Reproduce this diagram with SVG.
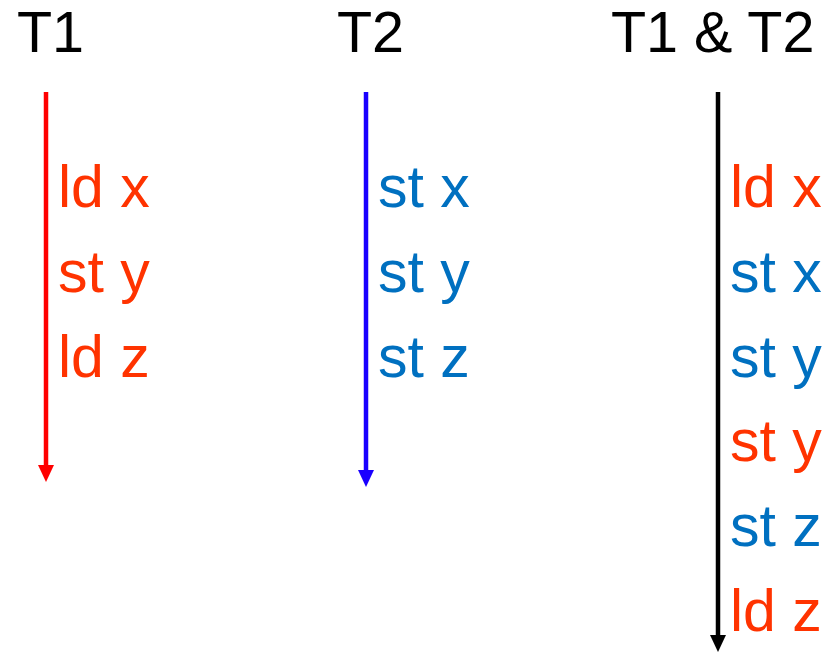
<svg xmlns="http://www.w3.org/2000/svg" width="825" height="655" viewBox="0 0 825 655">
  <style>
    text { font-family: "Liberation Sans", Arial, sans-serif; font-size: 59px; }
    .title { fill: #000000; font-size: 57.5px; }
    .t1 { fill: #FF3300; }
    .t2 { fill: #0070C0; }
  </style>
  <rect width="825" height="655" fill="#ffffff"/>

  <!-- timelines -->
  <g id="connectors">
    <line x1="46" y1="92" x2="46" y2="468" stroke="#FF0000" stroke-width="4.5"/>
    <polygon points="38,465 54,465 46,482" fill="#FF0000"/>
    <line x1="366" y1="92" x2="366" y2="473" stroke="#1A00FF" stroke-width="4.5"/>
    <polygon points="358,470 374,470 366,487" fill="#1A00FF"/>
    <line x1="718" y1="92" x2="718" y2="638" stroke="#000000" stroke-width="4.5"/>
    <polygon points="710,635 726,635 718,652" fill="#000000"/>
  </g>

  <!-- thread T1 -->
  <g id="thread-t1">
    <text class="title" x="17" y="52">T1</text>
    <text class="t1" x="58" y="207">ld x</text>
    <text class="t1" x="58" y="292">st y</text>
    <text class="t1" x="58" y="377">ld z</text>
  </g>

  <!-- thread T2 -->
  <g id="thread-t2">
    <text class="title" x="337" y="52">T2</text>
    <text class="t2" x="378" y="207">st x</text>
    <text class="t2" x="378" y="292">st y</text>
    <text class="t2" x="378" y="377">st z</text>
  </g>

  <!-- interleaved order -->
  <g id="interleaving">
    <text class="title" x="611" y="52">T1 &amp; T2</text>
    <text class="t1" x="730" y="207">ld x</text>
    <text class="t2" x="730" y="292">st x</text>
    <text class="t2" x="730" y="377">st y</text>
    <text class="t1" x="730" y="461">st y</text>
    <text class="t2" x="730" y="546">st z</text>
    <text class="t1" x="730" y="631">ld z</text>
  </g>
</svg>
